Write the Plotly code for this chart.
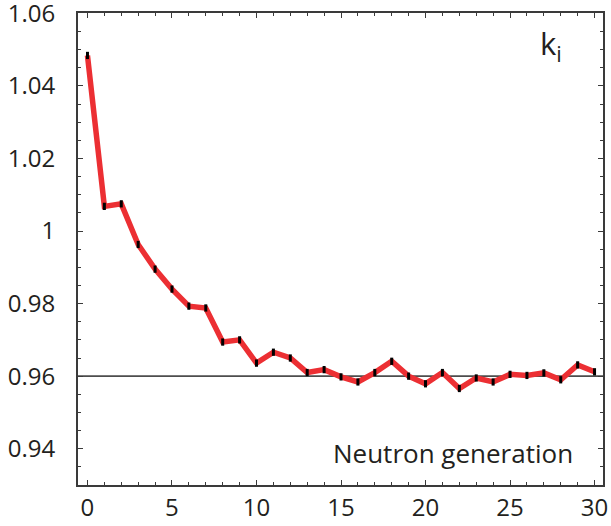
import plotly.graph_objects as go

# Multiplication factor per neutron generation
generation = list(range(31))
k_values = [1.0484, 1.0068, 1.0075, 0.9963, 0.9895, 0.9840, 0.9793, 0.9788,
            0.9694, 0.9700, 0.9636, 0.9666, 0.9650, 0.9610, 0.9618, 0.9598,
            0.9584, 0.9610, 0.9641, 0.9600, 0.9579, 0.9610, 0.9566, 0.9595,
            0.9584, 0.9605, 0.9602, 0.9609, 0.9590, 0.9631, 0.9612]
k_err = [0.0010] * len(generation)
k_reference = 0.96

y_ticks = [0.94, 0.96, 0.98, 1.00, 1.02, 1.04, 1.06]
y_tick_text = ["0.94", "0.96", "0.98", "1", "1.02", "1.04", "1.06"]
x_ticks = [0, 5, 10, 15, 20, 25, 30]

FONT = "Open Sans"
TEXT = "#231f20"
AXIS = "#3a3a3a"

fig = go.Figure()

fig.add_hline(y=k_reference, line=dict(color="#4d4d4d", width=1.6), layer="below")

fig.add_trace(go.Scatter(
    x=generation, y=k_values, mode="lines",
    line=dict(color="#ec2f33", width=5.5),
    hoverinfo="skip", showlegend=False,
))

fig.add_trace(go.Scatter(
    x=generation, y=k_values, mode="markers",
    marker=dict(size=1, color="black"),
    error_y=dict(type="data", array=k_err, visible=True,
                 color="black", thickness=3, width=0),
    hoverinfo="skip", showlegend=False,
))

axis_common = dict(
    showgrid=False, zeroline=False, showline=True,
    linecolor=AXIS, linewidth=2, mirror="allticks",
    ticks="inside", ticklen=5, tickwidth=1, tickcolor=AXIS,
    tickfont=dict(family=FONT, size=24, color=TEXT),
    automargin=False, ticklabeloverflow="allow",
)

fig.update_xaxes(
    range=[-0.56, 30.5], tickvals=x_ticks,
    minor=dict(dtick=1, ticks="inside", ticklen=3, tickwidth=1, tickcolor=AXIS),
    ticklabelstandoff=0,
    **axis_common,
)
fig.update_yaxes(
    range=[0.93, 1.0601], tickvals=y_ticks, ticktext=y_tick_text,
    minor=dict(dtick=0.005, ticks="inside", ticklen=3, tickwidth=1, tickcolor=AXIS),
    ticklabelstandoff=16,
    **axis_common,
)

fig.add_annotation(
    x=27.4, y=1.0512, xref="x", yref="y",
    text="k<sub>i</sub>", showarrow=False,
    font=dict(family=FONT, size=31, color=TEXT),
)
fig.add_annotation(
    x=21.6, y=0.9387, xref="x", yref="y",
    text="Neutron generation", showarrow=False,
    font=dict(family=FONT, size=26, color=TEXT),
)

fig.update_layout(
    width=611, height=526,
    margin=dict(l=78, r=8, t=13, b=41, pad=0),
    paper_bgcolor="white", plot_bgcolor="white",
)

fig.write_html("out.html")
